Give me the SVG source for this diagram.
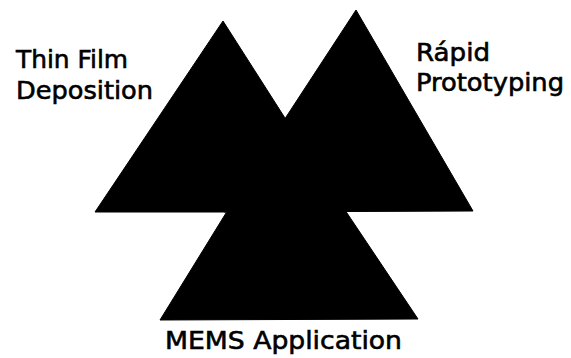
<svg xmlns="http://www.w3.org/2000/svg" width="571" height="358" viewBox="0 0 571 358">
<style>
.tri{fill:#000;stroke:#000;stroke-width:1;stroke-linejoin:round}
.lbl{font-family:"DejaVu Sans","Liberation Sans",sans-serif;font-size:24px;fill:#000;stroke:#000;stroke-width:0.6}
</style>
<rect width="571" height="358" fill="#fff"/>
<g id="thin-film">
<polygon class="tri" points="223,21 95,212 345,212"/>
<text class="lbl" x="16" y="68" textLength="112" lengthAdjust="spacingAndGlyphs">Thin Film</text>
<text class="lbl" x="16" y="99" textLength="137" lengthAdjust="spacingAndGlyphs">Deposition</text>
</g>
<g id="rapid-prototyping">
<polygon class="tri" points="356,10 224,212 473,211"/>
<text class="lbl" x="416" y="61" textLength="74" lengthAdjust="spacingAndGlyphs">Rápid</text>
<text class="lbl" x="416" y="91" textLength="148" lengthAdjust="spacingAndGlyphs">Prototyping</text>
</g>
<g id="mems">
<polygon class="tri" points="284,119 160,320 418,319"/>
<text class="lbl" x="165" y="349" textLength="237" lengthAdjust="spacingAndGlyphs">MEMS Application</text>
</g>
<g id="connectors"/>
</svg>
